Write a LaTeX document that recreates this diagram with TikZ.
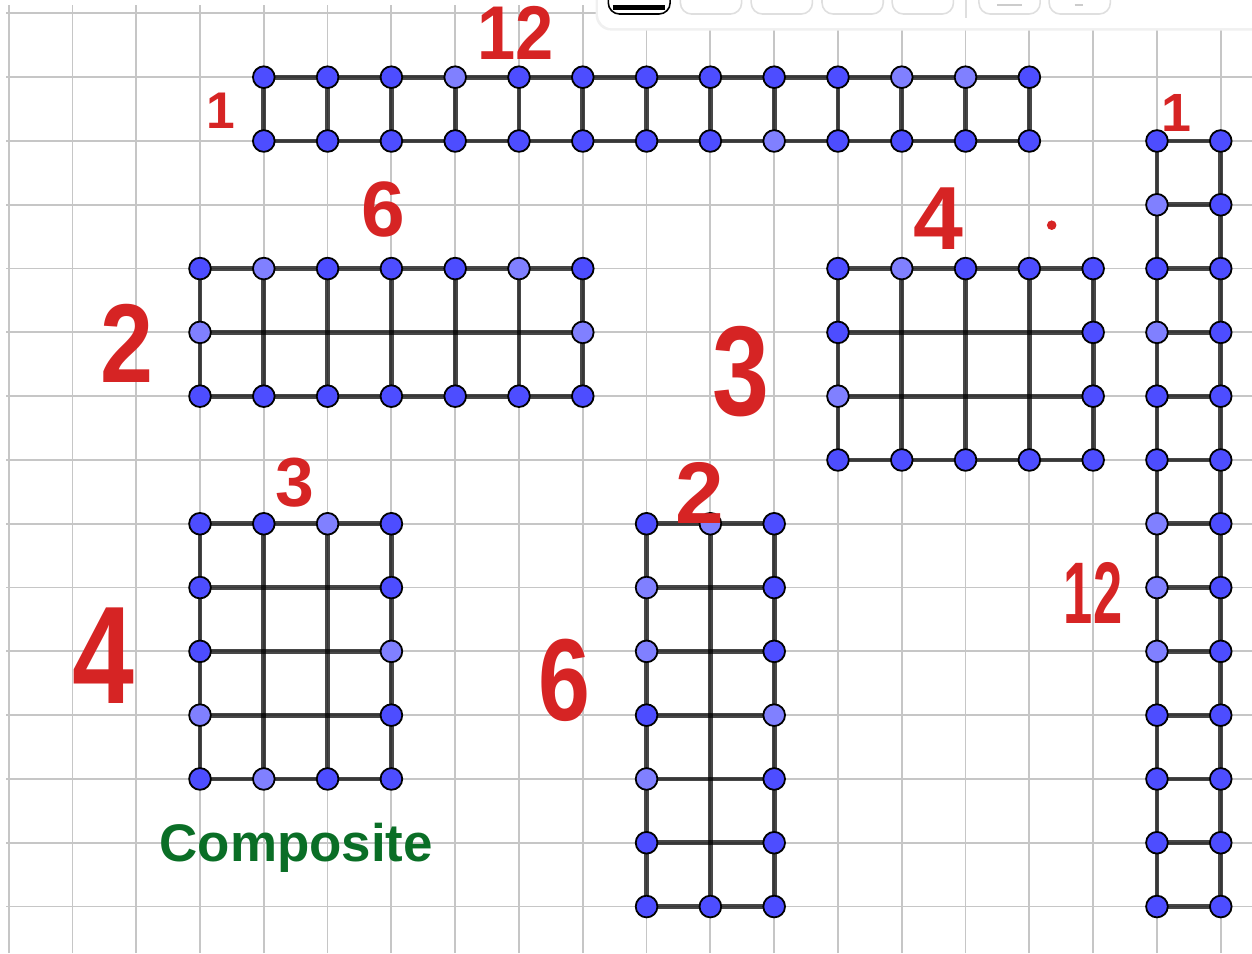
\documentclass[tikz,border=0pt]{standalone}
\usepackage{fontspec}
\setmainfont{Liberation Sans}
\usetikzlibrary{backgrounds}

\definecolor{dk}{RGB}{77,77,255}
\definecolor{lt}{RGB}{128,128,255}
\definecolor{handred}{RGB}{214,36,36}
\definecolor{labelgreen}{RGB}{10,110,38}

\tikzset{
  gridline/.style={draw=gray!45, line width=0.8pt},
  stick/.style={draw=black, draw opacity=0.72, line width=2.1pt},
  dot/.style={circle, draw=black, line width=0.8pt, fill=dk, inner sep=0pt, minimum size=0.34cm},
  num/.style={text=handred, font=\bfseries\fontsize{#1}{#1}\selectfont, inner sep=0pt},
  toolbtn/.style={draw=gray!25, line width=0.7pt, rounded corners=5pt}
}

\begin{document}
\begin{tikzpicture}
    \useasboundingbox (-0.135,-0.73) rectangle (19.49,14.21);

    % Grid lines
    \begin{scope}[on background layer]
        \draw[gridline, step=1] (-0.04,-0.73) grid (19.49,14.13);
    \end{scope}

    % 1 x 12 strip
    \begin{scope}[shift={(4,12)}]
        \foreach \i/\c in {0/dk,1/dk,2/dk,3/lt,4/dk,5/dk,6/dk,7/dk,8/dk,9/dk,10/lt,11/lt,12/dk}
            \node[dot, fill=\c] (A-\i-1) at (\i,1) {};
        \foreach \i/\c in {0/dk,1/dk,2/dk,3/dk,4/dk,5/dk,6/dk,7/dk,8/lt,9/dk,10/dk,11/dk,12/dk}
            \node[dot, fill=\c] (A-\i-0) at (\i,0) {};
    \end{scope}
    \begin{scope}[on background layer]
        \foreach \i in {0,...,12} \draw[stick] (A-\i-0.center) -- (A-\i-1.center);
        \foreach \j in {0,1} \draw[stick] (A-0-\j.center) -- (A-12-\j.center);
    \end{scope}

    % 2 x 6 block
    \begin{scope}[shift={(3,8)}]
        \foreach \i/\c in {0/dk,1/lt,2/dk,3/dk,4/dk,5/lt,6/dk}
            \node[dot, fill=\c] (B-\i-2) at (\i,2) {};
        \foreach \i/\c in {0/lt,6/lt}
            \node[dot, fill=\c] (B-\i-1) at (\i,1) {};
        \foreach \i in {0,...,6}
            \node[dot] (B-\i-0) at (\i,0) {};
    \end{scope}
    \begin{scope}[on background layer]
        \foreach \i in {0,...,6} \draw[stick] (B-\i-0.center) -- (B-\i-2.center);
        \foreach \j in {0,1,2} \draw[stick] (B-0-\j.center) -- (B-6-\j.center);
    \end{scope}

    % 3 x 4 block
    \begin{scope}[shift={(13,7)}]
        \foreach \i/\c in {0/dk,1/lt,2/dk,3/dk,4/dk}
            \node[dot, fill=\c] (C-\i-3) at (\i,3) {};
        \foreach \j/\l/\r in {2/dk/dk, 1/lt/dk} {
            \node[dot, fill=\l] (C-0-\j) at (0,\j) {};
            \node[dot, fill=\r] (C-4-\j) at (4,\j) {};
        }
        \foreach \i in {0,...,4}
            \node[dot] (C-\i-0) at (\i,0) {};
    \end{scope}
    \begin{scope}[on background layer]
        \foreach \i in {0,...,4} \draw[stick] (C-\i-0.center) -- (C-\i-3.center);
        \foreach \j in {0,...,3} \draw[stick] (C-0-\j.center) -- (C-4-\j.center);
    \end{scope}

    % 4 x 3 block
    \begin{scope}[shift={(3,2)}]
        \foreach \i/\c in {0/dk,1/dk,2/lt,3/dk}
            \node[dot, fill=\c] (D-\i-4) at (\i,4) {};
        \foreach \j/\l/\r in {3/dk/dk, 2/dk/lt, 1/lt/dk} {
            \node[dot, fill=\l] (D-0-\j) at (0,\j) {};
            \node[dot, fill=\r] (D-3-\j) at (3,\j) {};
        }
        \foreach \i/\c in {0/dk,1/lt,2/dk,3/dk}
            \node[dot, fill=\c] (D-\i-0) at (\i,0) {};
    \end{scope}
    \begin{scope}[on background layer]
        \foreach \i in {0,...,3} \draw[stick] (D-\i-0.center) -- (D-\i-4.center);
        \foreach \j in {0,...,4} \draw[stick] (D-0-\j.center) -- (D-3-\j.center);
    \end{scope}

    % 6 x 2 block
    \begin{scope}[shift={(10,0)}]
        \foreach \i/\c in {0/dk,1/lt,2/dk}
            \node[dot, fill=\c] (E-\i-6) at (\i,6) {};
        \foreach \j/\l/\r in {5/lt/dk, 4/lt/dk, 3/dk/lt, 2/lt/dk, 1/dk/dk} {
            \node[dot, fill=\l] (E-0-\j) at (0,\j) {};
            \node[dot, fill=\r] (E-2-\j) at (2,\j) {};
        }
        \foreach \i in {0,1,2}
            \node[dot] (E-\i-0) at (\i,0) {};
    \end{scope}
    \begin{scope}[on background layer]
        \foreach \i in {0,1,2} \draw[stick] (E-\i-0.center) -- (E-\i-6.center);
        \foreach \j in {0,...,6} \draw[stick] (E-0-\j.center) -- (E-2-\j.center);
    \end{scope}

    % 12 x 1 strip
    \begin{scope}[shift={(18,0)}]
        \foreach \j/\l in {12/dk,11/lt,10/dk,9/lt,8/dk,7/dk,6/lt,5/lt,4/lt,3/dk,2/dk,1/dk,0/dk} {
            \node[dot, fill=\l] (F-0-\j) at (0,\j) {};
            \node[dot] (F-1-\j) at (1,\j) {};
        }
    \end{scope}
    \begin{scope}[on background layer]
        \foreach \i in {0,1} \draw[stick] (F-\i-0.center) -- (F-\i-12.center);
        \foreach \j in {0,...,12} \draw[stick] (F-0-\j.center) -- (F-1-\j.center);
    \end{scope}

    % Side lengths
    \node[num=34] (a-long)  at (7.94,13.69) {\scalebox{0.9}[1]{12}};
    \node[num=23] (a-short) at (3.33,12.48) {1};
    \node[num=35] (b-long)  at (5.87,10.92) {6};
    \node[num=50] (b-short) at (1.86,8.83) {\scalebox{0.85}[1]{2}};
    \node[num=40] (c-long)  at (14.57,10.79) {4};
    \node[num=57] (c-short) at (11.48,8.38) {\scalebox{0.8}[1]{3}};
    \node[num=31] (d-short) at (4.49,6.65) {3};
    \node[num=62] (d-long)  at (1.48,3.94) {\scalebox{0.8}[1]{4}};
    \node[num=39] (e-short) at (10.84,6.48) {2};
    \node[num=52] (e-long)  at (8.72,3.55) {\scalebox{0.8}[1]{6}};
    \node[num=24] (f-short) at (18.31,12.44) {1};
    \node[num=39] (f-long)  at (17.00,4.91) {\scalebox{0.6}[1]{12}};
    \fill[handred] (16.35,10.68) circle (0.075);

    % Title
    \node[text=labelgreen, font=\bfseries\fontsize{23.6}{23.6}\selectfont, anchor=base]
        (composite) at (4.51,0.70) {Composite};

    % Toolbar
    \fill[gray!12, rounded corners=7pt] (9.20,13.73) rectangle (20,14.6);
    \fill[white, rounded corners=6pt] (9.24,13.77) rectangle (20,14.6);
    \draw[toolbtn, draw=black] (9.40,13.99) rectangle (10.37,14.6);
    \draw[line width=2.2pt] (9.47,14.09) -- (10.29,14.09);
    \foreach \x in {10.53,11.64,12.75,13.85,15.21,16.31}
        \draw[toolbtn] (\x,13.99) rectangle ++(0.96,0.6);
    \draw[gray!25, line width=0.7pt] (15.01,13.93) -- (15.01,14.3);
    \draw[gray!40, line width=0.8pt] (15.49,14.13) -- (15.89,14.13);
    \draw[gray!40, line width=0.8pt] (16.71,14.13) -- (16.84,14.13);

\end{tikzpicture}
\end{document}
